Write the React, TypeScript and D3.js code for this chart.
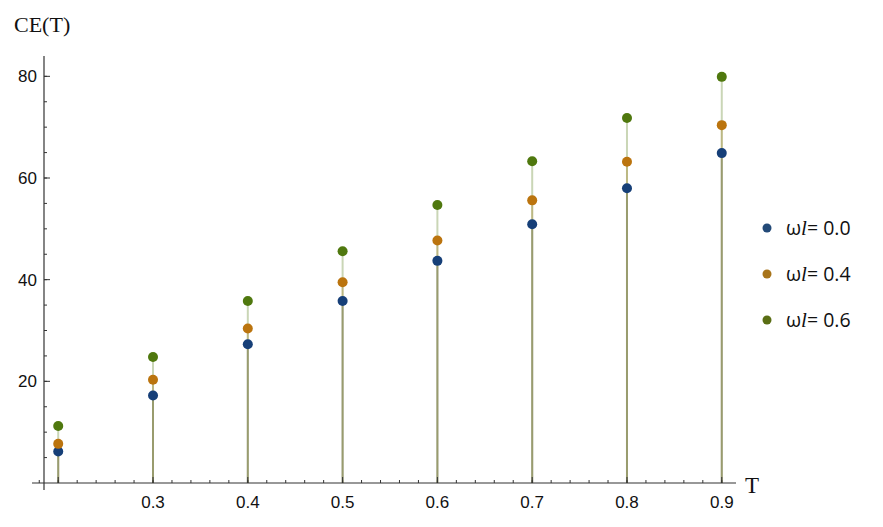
import React from 'react';
import * as d3 from 'd3';

// T values and CE(T) for each ωl
const temps = [0.2, 0.3, 0.4, 0.5, 0.6, 0.7, 0.8, 0.9];
const ce00 = [6.2, 17.2, 27.3, 35.8, 43.7, 50.9, 58.0, 64.9];
const ce04 = [7.7, 20.3, 30.4, 39.5, 47.7, 55.6, 63.2, 70.4];
const ce06 = [11.2, 24.8, 35.8, 45.6, 54.7, 63.3, 71.8, 79.9];
const legendLabels = ['0.0', '0.4', '0.6'];
const xTickLabels = ['0.3', '0.4', '0.5', '0.6', '0.7', '0.8', '0.9'];
const yTickLabels = [20, 40, 60, 80];

const series = [
  { name: legendLabels[0], values: ce00, color: '#163f78', legend: '#234a78' },
  { name: legendLabels[1], values: ce04, color: '#bb740e', legend: '#a8741a' },
  { name: legendLabels[2], values: ce06, color: '#4f780e', legend: '#5a6e14' },
];

const W = 883;
const H = 527;

export default function App() {
  const x = d3.scaleLinear().domain([0.185, 0.915]).range([44, 736]);
  const y = d3.scaleLinear().domain([0, 84]).range([483, 56]);

  const x0 = x(0.185);
  const y0 = y(0);

  const xMinor = d3.range(0.18, 0.9001, 0.02);
  const xMajor = d3.range(0.2, 0.9001, 0.1);
  const yMinor = d3.range(5, 81, 5);

  const tickFont = "'Liberation Sans', Arial, sans-serif";
  const serif = "'Liberation Serif', 'DejaVu Serif', serif";

  return (
    <svg width={W} height={H} style={{ position: 'absolute', left: 0, top: 0, background: '#fff' }}>
      {/* stems (filling to axis) */}
      {series.map((s) =>
        s.values.map((v, i) => (
          <line
            key={s.name + '-stem-' + i}
            x1={x(temps[i])}
            x2={x(temps[i])}
            y1={y0}
            y2={y(v)}
            stroke={s.color}
            strokeOpacity={0.3}
            strokeWidth={2}
          />
        ))
      )}

      {/* axes */}
      <line x1={32} x2={x(0.915)} y1={y0} y2={y0} stroke="#333" strokeWidth={1.2} />
      <line x1={x0} x2={x0} y1={y(84)} y2={490} stroke="#333" strokeWidth={1.2} />

      {xMinor.map((t, i) => (
        <line key={'xm' + i} x1={x(t)} x2={x(t)} y1={y0} y2={y0 - 3} stroke="#333" strokeWidth={1} />
      ))}
      {xMajor.map((t, i) => (
        <line key={'xM' + i} x1={x(t)} x2={x(t)} y1={y0} y2={y0 - 6} stroke="#333" strokeWidth={1} />
      ))}
      {yMinor.map((v, i) => (
        <line key={'ym' + i} x1={x0} x2={x0 + 3} y1={y(v)} y2={y(v)} stroke="#333" strokeWidth={1} />
      ))}
      {yTickLabels.map((v) => (
        <line key={'yM' + v} x1={x0} x2={x0 + 6} y1={y(v)} y2={y(v)} stroke="#333" strokeWidth={1} />
      ))}

      {xTickLabels.map((l) => (
        <text key={'xl' + l} x={x(+l)} y={y0 + 25} textAnchor="middle" fontFamily={tickFont} fontSize={17} fill="#111">
          {l}
        </text>
      ))}
      {yTickLabels.map((v) => (
        <text key={'yl' + v} x={x0 - 7} y={y(v) + 6} textAnchor="end" fontFamily={tickFont} fontSize={17} fill="#111">
          {v}
        </text>
      ))}

      <text x={14} y={32} fontFamily={serif} fontSize={22} fill="#111">
        CE(T)
      </text>
      <text x={745} y={493} fontFamily={serif} fontSize={23} fill="#111">
        T
      </text>

      {/* points */}
      {series.map((s) =>
        s.values.map((v, i) => (
          <circle key={s.name + '-pt-' + i} cx={x(temps[i])} cy={y(v)} r={5} fill={s.color} />
        ))
      )}

      {/* legend */}
      {series.map((s, i) => (
        <g key={'lg' + i} transform={`translate(767, ${228 + i * 46})`}>
          <circle cx={0} cy={0} r={4.5} fill={s.legend} />
          <text x={19} y={7} fontFamily="'Open Sans', sans-serif" fontSize={19.5} fill="#111">
            ω<tspan fontFamily={serif} fontStyle="italic" fontSize={21}>l</tspan>= {s.name}
          </text>
        </g>
      ))}
    </svg>
  );
}
